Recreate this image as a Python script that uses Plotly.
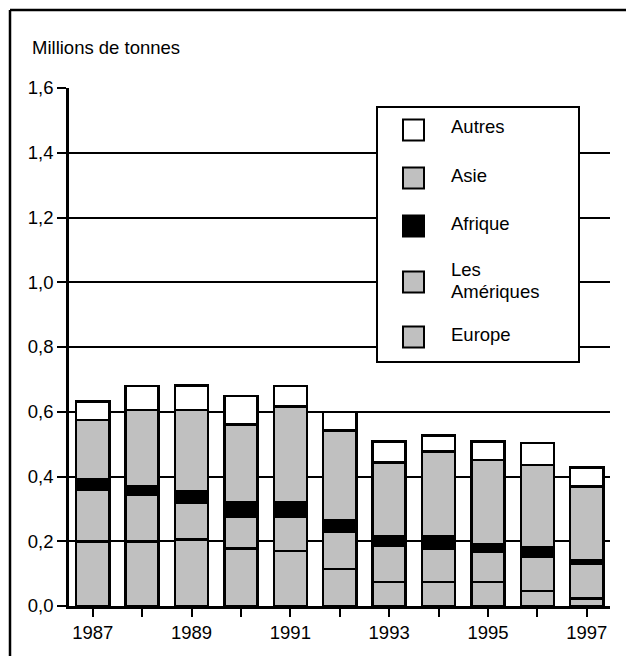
import plotly.graph_objects as go

years = list(range(1987, 1998))
europe = [0.200, 0.200, 0.205, 0.178, 0.170, 0.114, 0.074, 0.074, 0.074, 0.047, 0.023]
ameriques = [0.160, 0.143, 0.113, 0.098, 0.106, 0.116, 0.112, 0.104, 0.094, 0.105, 0.106]
afrique = [0.030, 0.028, 0.038, 0.045, 0.045, 0.034, 0.028, 0.036, 0.022, 0.029, 0.011]
asie = [0.185, 0.235, 0.250, 0.239, 0.295, 0.278, 0.230, 0.263, 0.261, 0.254, 0.229]
autres = [0.057, 0.074, 0.075, 0.089, 0.064, 0.057, 0.064, 0.050, 0.057, 0.068, 0.059]

series = [
    ("Europe", europe, "#c0c0c0"),
    ("Les Amériques", ameriques, "#c0c0c0"),
    ("Afrique", afrique, "#000000"),
    ("Asie", asie, "#c0c0c0"),
    ("Autres", autres, "#ffffff"),
]
legend_order = [["Autres"], ["Asie"], ["Afrique"], ["Les", "Amériques"], ["Europe"]]
legend_colors = ["#ffffff", "#c0c0c0", "#000000", "#c0c0c0", "#c0c0c0"]
xlabels = [str(y) if y % 2 == 1 else "" for y in years]
yticks = [0.0, 0.2, 0.4, 0.6, 0.8, 1.0, 1.2, 1.4, 1.6]

FONT = "Liberation Sans, Arial, Helvetica, sans-serif"
FS = 18.5
W, H = 626, 656
L, R, T, B = 69, 16, 88, 50
PW, PH = W - L - R, H - T - B


def px(x):
    return (x - L) / PW


def py(y):
    return (H - B - y) / PH


fig = go.Figure()
for name, vals, col in series:
    fig.add_trace(go.Bar(
        x=years, y=vals, name=name, width=0.67,
        marker=dict(color=col, line=dict(color="black", width=2.5)),
        showlegend=False,
    ))

shapes = []
annotations = []
# outer frame (left and top edges)
shapes.append(dict(type="line", xref="paper", yref="paper",
                   x0=px(10), x1=px(640), y0=py(10), y1=py(10),
                   line=dict(color="black", width=2.5)))
shapes.append(dict(type="line", xref="paper", yref="paper",
                   x0=px(10), x1=px(10), y0=py(10), y1=py(670),
                   line=dict(color="black", width=2.5)))
# legend box
shapes.append(dict(type="rect", xref="paper", yref="paper", layer="above",
                   x0=px(377), x1=px(579), y0=py(107), y1=py(362),
                   fillcolor="white", line=dict(color="black", width=2)))
centers = [130, 178, 226, 282, 337]
for labs, col, cy in zip(legend_order, legend_colors, centers):
    shapes.append(dict(type="rect", xref="paper", yref="paper", layer="above",
                       x0=px(403), x1=px(424), y0=py(cy - 10.5), y1=py(cy + 10.5),
                       fillcolor=col, line=dict(color="black", width=2)))
    if len(labs) == 1:
        ys = [cy - 3]
    else:
        ys = [cy - 12.5, cy + 9]
    for lab, ty in zip(labs, ys):
        annotations.append(dict(xref="paper", yref="paper", x=px(449), y=py(ty),
                                text=lab, showarrow=False, xanchor="left", yanchor="middle",
                                align="left", font=dict(family=FONT, size=FS, color="black")))

annotations.append(dict(xref="paper", yref="paper", x=px(30), y=py(47),
                        text="Millions de tonnes", showarrow=False,
                        xanchor="left", yanchor="middle",
                        font=dict(family=FONT, size=FS, color="black")))

fig.update_layout(
    width=W, height=H,
    margin=dict(l=L, r=R, t=T, b=B),
    barmode="stack",
    paper_bgcolor="white", plot_bgcolor="white",
    separators=", ",
    font=dict(family=FONT, size=FS, color="black"),
    shapes=shapes, annotations=annotations,
    xaxis=dict(range=[1986.52, 1997.47], tickvals=years, ticktext=xlabels,
               ticks="outside", ticklen=8, tickwidth=2, tickcolor="black",
               showline=True, linecolor="black", linewidth=2.5,
               showgrid=False, zeroline=False,
               tickfont=dict(family=FONT, size=FS, color="black")),
    yaxis=dict(range=[0, 1.6], tickvals=yticks, tickformat=".1f",
               ticks="outside", ticklen=9, tickwidth=2, tickcolor="black",
               showline=True, linecolor="black", linewidth=2.5,
               showgrid=True, gridcolor="black", gridwidth=2,
               zeroline=False,
               tickfont=dict(family=FONT, size=FS, color="black")),
)

fig.write_html("out.html", config={"displayModeBar": False},
               post_script="document.body.style.margin='0';document.body.style.overflow='hidden';")
